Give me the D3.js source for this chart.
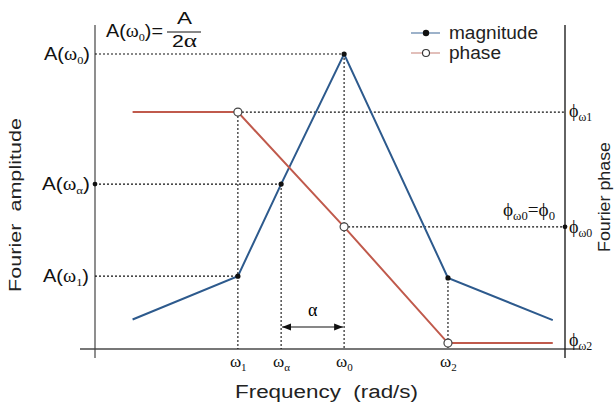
<!DOCTYPE html>
<html><head><meta charset="utf-8">
<script src="https://cdn.jsdelivr.net/npm/d3@7"></script>
<style>body{margin:0;background:#fff}svg{display:block}</style>
</head><body>
<svg id="c" width="615" height="405"></svg>
<script>
// frequencies (arbitrary units) of the piecewise-linear spectrum
const freq = [8, 30.4, 39.6, 53, 75.1, 97.4];
const keys = ["start", "w1", "wa", "w0", "w2", "end"];
const magnitude = [0.10, 0.247, 0.559, 1.0, 0.241, 0.098];
const phaseFreq = [8, 30.4, 53, 75.1, 97.4];
const phase = [0.803, 0.803, 0.414, 0.02, 0.02];
const tickNames = [["ω","1"],["ω","α"],["ω","0"],["ω","2"]];
const tickFreq = [30.4, 39.6, 53, 75.1];

const svg = d3.select("#c");
const x = d3.scaleLinear().domain([0,100]).range([95,565]);
const y = d3.scaleLinear().domain([0,1]).range([349,54]);
const yp = d3.scaleLinear().domain([0,1]).range([349,54]);
const SANS = "Liberation Sans, Arial, sans-serif";
const SERIF = "Liberation Serif, Times New Roman, serif";
const BLUE = "#2d5a8d", RED = "#c05a4c";

function rich(g, parts, size, subScale){
  const ss = subScale || 0.62;
  const t = g.append("text").attr("font-size", size).attr("fill","#111");
  parts.forEach(p=>{
    const ts = t.append("tspan").text(p.t).attr("font-family", p.serif?SERIF:SANS);
    if(p.sub){ ts.attr("font-size", size*ss).attr("dy", size*0.22); }
    else if(p.back){ ts.attr("dy", -size*0.22); }
  });
  return t;
}
const fit = (t,L)=>t.attr("textLength",L).attr("lengthAdjust","spacingAndGlyphs");
const A = (s)=>[{t:"A("},{t:"ω",serif:1},{t:s,serif:1,sub:1},{t:")",back:1}];
const PHI = (s)=>[{t:"ϕ",serif:1},{t:s,serif:1,sub:1}];

// axes
svg.append("line").attr("x1",80).attr("x2",580).attr("y1",y(0)).attr("y2",y(0)).attr("stroke","#777").attr("stroke-width",2);
svg.append("line").attr("x1",95).attr("x2",95).attr("y1",25).attr("y2",358).attr("stroke","#444").attr("stroke-width",1.2);
svg.append("line").attr("x1",565).attr("x2",565).attr("y1",25).attr("y2",358).attr("stroke","#222").attr("stroke-width",1.4);

// guide lines (dotted)
const dot = (x1,y1,x2,y2)=>svg.append("line").attr("x1",x1).attr("y1",y1).attr("x2",x2).attr("y2",y2)
  .attr("stroke","#111").attr("stroke-width",1.1).attr("stroke-dasharray","2,2");
const m = k=>magnitude[keys.indexOf(k)], f = k=>freq[keys.indexOf(k)];
dot(x(0), y(m("w0")), x(f("w0")), y(m("w0")));
dot(x(0), y(m("wa")), x(f("wa")), y(m("wa")));
dot(x(0), y(m("w1")), x(f("w1")), y(m("w1")));
dot(x(phaseFreq[1]), yp(phase[1]), x(100), yp(phase[1]));
dot(x(phaseFreq[2]), yp(phase[2]), x(100), yp(phase[2]));
dot(x(f("w1")), yp(phase[1]), x(f("w1")), y(0));
dot(x(f("wa")), y(m("wa")), x(f("wa")), y(0));
dot(x(f("w0")), y(m("w0")), x(f("w0")), y(0));
dot(x(f("w2")), y(m("w2")), x(f("w2")), y(0));

// lines
const line = d3.line();
svg.append("path").attr("d", line(freq.map((d,i)=>[x(d), y(magnitude[i])])))
  .attr("fill","none").attr("stroke",BLUE).attr("stroke-width",2);
svg.append("path").attr("d", line(phaseFreq.map((d,i)=>[x(d), yp(phase[i])])))
  .attr("fill","none").attr("stroke",RED).attr("stroke-width",2);

// markers
freq.forEach((d,i)=>{ if(i>0 && i<freq.length-1)
  svg.append("circle").attr("cx",x(d)).attr("cy",y(magnitude[i])).attr("r",2.6).attr("fill","#111"); });
svg.append("circle").attr("cx",x(0)).attr("cy",y(m("wa"))).attr("r",2.4).attr("fill","#111");
svg.append("circle").attr("cx",x(100)).attr("cy",yp(phase[2])).attr("r",2.4).attr("fill","#111");
phaseFreq.forEach((d,i)=>{ if(i>0 && i<phaseFreq.length-1)
  svg.append("circle").attr("cx",x(d)).attr("cy",yp(phase[i])).attr("r",4).attr("fill","#fff").attr("stroke","#444").attr("stroke-width",1.2); });

// alpha double arrow
const defs = svg.append("defs");
defs.append("marker").attr("id","ah").attr("viewBox","0 0 10 10").attr("refX",10).attr("refY",5)
  .attr("markerWidth",9).attr("markerHeight",9).attr("markerUnits","userSpaceOnUse").attr("orient","auto-start-reverse")
  .append("path").attr("d","M0,1 L10,5 L0,9 Z").attr("fill","#111");
svg.append("line").attr("x1",x(f("wa"))+1).attr("x2",x(f("w0"))-1).attr("y1",327).attr("y2",327)
  .attr("stroke","#111").attr("stroke-width",1.1).attr("marker-start","url(#ah)").attr("marker-end","url(#ah)");
svg.append("text").attr("x",(x(f("wa"))+x(f("w0")))/2).attr("y",316).attr("text-anchor","middle")
  .attr("font-family",SERIF).attr("font-size",18).text("α");

// x tick labels
tickFreq.forEach((d,i)=>{
  rich(svg, [{t:tickNames[i][0],serif:1},{t:tickNames[i][1],serif:1,sub:1}], 17, 0.65)
    .attr("x", x(d)-8).attr("y", 367);
});

// left labels
fit(rich(svg, A("0"), 18), 46).attr("x",44).attr("y",60);
fit(rich(svg, A("α"), 18), 48).attr("x",42).attr("y",190);
fit(rich(svg, A("1"), 18), 46).attr("x",43).attr("y",282);

// right labels
rich(svg, PHI("ω1"), 18, 0.66).attr("x",569).attr("y",117);
rich(svg, PHI("ω0"), 18, 0.66).attr("x",569).attr("y",233);
rich(svg, PHI("ω2"), 18, 0.66).attr("x",569).attr("y",346);
const eq = rich(svg, [{t:"ϕ",serif:1},{t:"ω0",serif:1,sub:1},{t:"=",serif:1,back:1},{t:"ϕ",serif:1},{t:"0",serif:1,sub:1}], 18, 0.66);
fit(eq, 52).attr("x",503).attr("y",216);

// top formula
fit(rich(svg, [{t:"A("},{t:"ω",serif:1},{t:"0",serif:1,sub:1},{t:")=",back:1}], 18), 57).attr("x",106).attr("y",37);
fit(svg.append("text").attr("x",177).attr("y",24).attr("font-family",SANS).attr("font-size",16).attr("fill","#111").text("A"), 15);
svg.append("line").attr("x1",167).attr("x2",201).attr("y1",32).attr("y2",32).attr("stroke","#111").attr("stroke-width",1);
const den = svg.append("text").attr("x",172).attr("y",47).attr("font-size",16).attr("fill","#111");
den.append("tspan").attr("font-family",SANS).text("2");
den.append("tspan").attr("font-family",SERIF).attr("font-size",19).text("α");
fit(den, 25);

// legend
const lg = svg.append("g");
lg.append("line").attr("x1",411).attr("x2",440).attr("y1",33).attr("y2",33).attr("stroke","#7d98b8").attr("stroke-width",1.5);
lg.append("circle").attr("cx",426).attr("cy",33).attr("r",3.2).attr("fill","#111");
fit(lg.append("text").attr("x",449).attr("y",39).attr("font-family",SANS).attr("font-size",17.5).attr("fill","#222").text("magnitude"), 89);
lg.append("line").attr("x1",411).attr("x2",440).attr("y1",53).attr("y2",53).attr("stroke","#d9aaa3").attr("stroke-width",1.5);
lg.append("circle").attr("cx",426).attr("cy",53).attr("r",3.5).attr("fill","#fff").attr("stroke","#333").attr("stroke-width",1.1);
fit(lg.append("text").attr("x",449).attr("y",59).attr("font-family",SANS).attr("font-size",17.5).attr("fill","#222").text("phase"), 52);

// axis titles
fit(svg.append("text").attr("x",235).attr("y",398).attr("font-family",SANS).attr("font-size",18).attr("fill","#222")
  .attr("xml:space","preserve").text("Frequency  (rad/s)"), 183);
fit(svg.append("text").attr("transform","translate(21,292) rotate(-90)").attr("font-family",SANS).attr("font-size",17).attr("fill","#222")
  .attr("xml:space","preserve").text("Fourier  amplitude"), 174);
fit(svg.append("text").attr("transform","translate(610,252) rotate(-90)").attr("font-family",SANS).attr("font-size",16.5).attr("fill","#222")
  .text("Fourier phase"), 110);
</script>
</body></html>
